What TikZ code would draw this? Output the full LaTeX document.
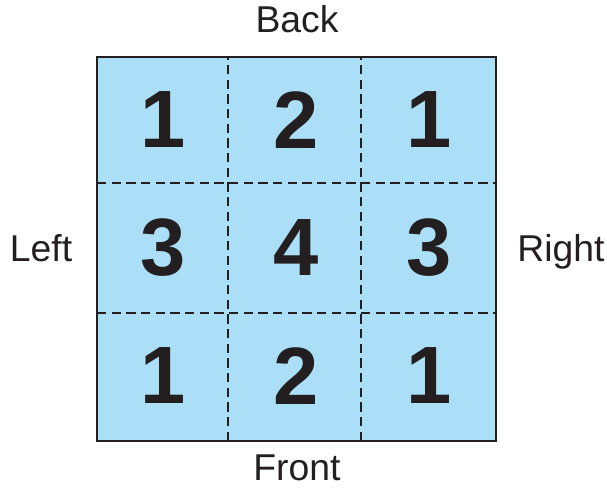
\documentclass[tikz,border=0pt]{standalone}
\usepackage{fontspec}
\setmainfont{Liberation Sans}
\usepackage{xcolor}
\definecolor{cellblue}{HTML}{ABDFF8}
\definecolor{inkgray}{HTML}{231F20}

\begin{document}
\begin{tikzpicture}[
x=0.75pt, y=0.75pt,
num/.style={font=\fontsize{61}{61}\selectfont\bfseries, text=inkgray, inner sep=0pt},
side/.style={font=\fontsize{28}{28}\selectfont, text=inkgray, inner sep=0pt, anchor=base},
cut/.style={dash pattern=on 7pt off 4pt, line width=1.6pt, draw=inkgray}
]
\useasboundingbox (0,0) rectangle (607,489);
\draw[fill=cellblue, line width=1.5pt, draw=inkgray] (97,48) coordinate (sw) rectangle (496,432) coordinate (ne);
\coordinate (c1s) at (228,48);  \coordinate (c1n) at (228,432);
\coordinate (c2s) at (361,48);  \coordinate (c2n) at (361,432);
\coordinate (r1w) at (97,306);  \coordinate (r1e) at (496,306);
\coordinate (r2w) at (97,176);  \coordinate (r2e) at (496,176);
\draw[cut] (c1s) -- (c1n);
\draw[cut] (c2s) -- (c2n);
\draw[cut] (r1w) -- (r1e);
\draw[cut] (r2w) -- (r2e);
% back row
\node[num] (tl) at (163,369) {1};
\node[num] (tm) at (296,369) {2};
\node[num] (tr) at (429,369) {1};
% middle row
\node[num] (ml) at (163,241) {3};
\node[num] (mm) at (296,241) {4};
\node[num] (mr) at (429,241) {3};
% front row
\node[num] (bl) at (163,113) {1};
\node[num] (bm) at (296,113) {2};
\node[num] (br) at (429,113) {1};
% sides
\node[side] (back) at (297,456) {Back};
\node[side] (front) at (297,8) {Front};
\node[side] (left) at (41,227) {Left};
\node[side] (right) at (561,227) {Right};
\end{tikzpicture}
\end{document}
